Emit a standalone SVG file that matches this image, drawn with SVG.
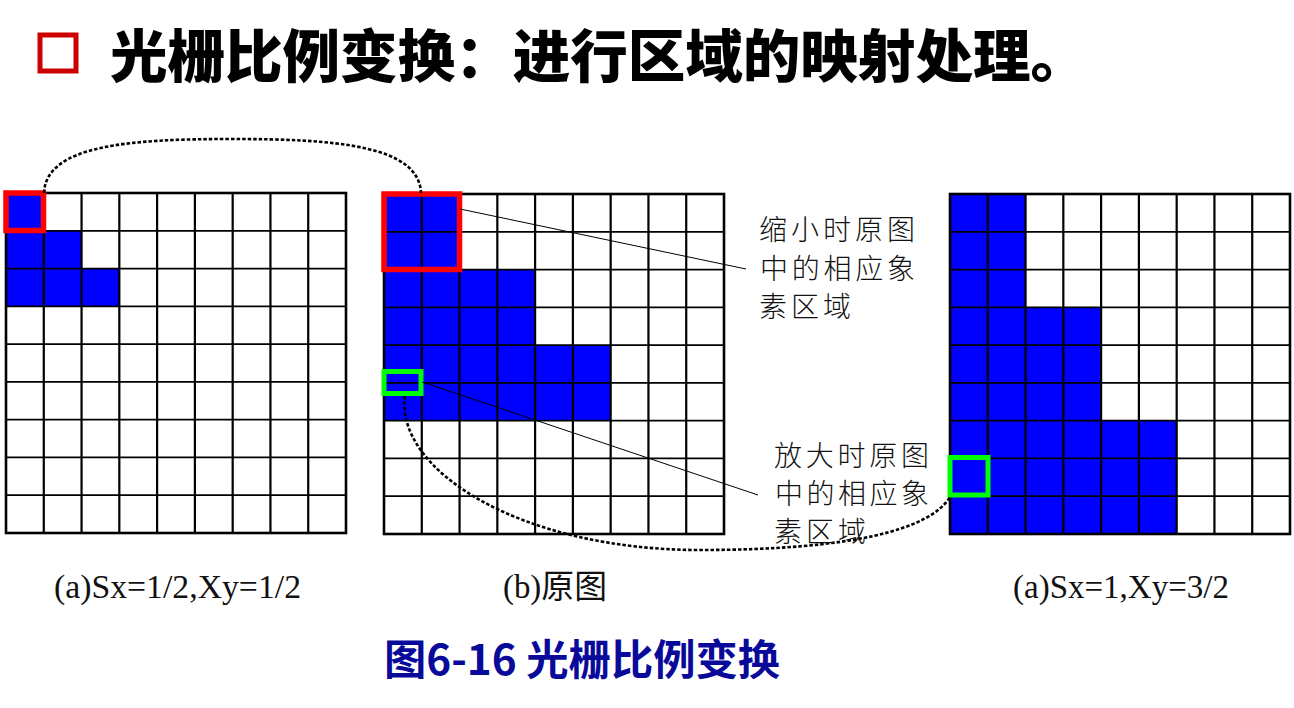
<svg xmlns="http://www.w3.org/2000/svg" xmlns:xlink="http://www.w3.org/1999/xlink" width="1294" height="708" viewBox="0 0 1294 708">
<style>
.blue{fill:#0000FF;stroke:none}
.vl{stroke:#000;stroke-width:2.2;fill:none}
.hl{stroke:#000;stroke-width:1.7;fill:none}
.bd{stroke:#000;stroke-width:2.6;fill:none}
.red{fill:none;stroke:#FF0000;stroke-width:5.5}
.green{fill:none;stroke:#00FF00;stroke-width:5}
.dot{fill:none;stroke:#000;stroke-width:2.6;stroke-dasharray:3.5 2}
.lead{stroke:#000;stroke-width:1;fill:none}
.lbl{font-family:"Noto Sans CJK SC","Noto Sans CJK JP",sans-serif;font-size:28px;font-weight:300;fill:#111}
.cap{font-family:"Liberation Serif","Noto Sans CJK SC",serif;font-size:33px;fill:#111}
</style>
<defs>
<g id="grid">
<path class="vl" d="M37.78,0V340M75.56,0V340M113.33,0V340M151.11,0V340M188.89,0V340M226.67,0V340M264.44,0V340M302.22,0V340"/>
<path class="hl" d="M0,37.78H340M0,75.56H340M0,113.33H340M0,151.11H340M0,188.89H340M0,226.67H340M0,264.44H340M0,302.22H340"/>
<rect class="bd" x="0" y="0" width="340" height="340"/>
</g>
</defs>
<rect width="1294" height="708" fill="#fff"/>
<g id="title">
<rect x="40" y="35" width="36" height="36" fill="none" stroke="#CC0000" stroke-width="5"/>
<text x="110" y="77" font-family="Noto Sans CJK SC,Noto Sans CJK JP,sans-serif" font-size="57" font-weight="900" fill="#000" textLength="978" lengthAdjust="spacingAndGlyphs">光栅比例变换：进行区域的映射处理。</text>
</g>
<g id="panel-a1" transform="translate(6,193)">
<path class="blue" d="M0,0H37.78V37.78H75.56V75.56H113.33V113.33H0Z"/>
<use xlink:href="#grid" href="#grid"/>
<rect class="red" x="0" y="0" width="37.5" height="37.5"/>
</g>
<g id="panel-b" transform="translate(384,194)">
<path class="blue" d="M0,0H75.56V75.56H151.11V151.11H226.67V226.67H0Z"/>
<use xlink:href="#grid" href="#grid"/>
<rect class="red" x="0" y="0" width="75.5" height="75.5"/>
<rect class="green" x="0" y="177.5" width="37" height="22"/>
</g>
<g id="panel-a2" transform="translate(950,194)">
<path class="blue" d="M0,0H75.56V113.33H151.11V226.67H226.67V340H0Z"/>
<use xlink:href="#grid" href="#grid"/>
<rect class="green" x="0" y="263.5" width="38" height="37.5"/>
</g>
<g id="connectors">
<path class="dot" d="M44,193 C46,145 130,139 232,139 C334,139 419,145 421,193"/>
<path class="dot" d="M405,396 C395,470 520,550 700,550 C850,550 930,530 950,497"/>
<line class="lead" x1="460" y1="209" x2="746" y2="269"/>
<line class="lead" x1="422" y1="382" x2="758" y2="495"/>
</g>
<g id="label-shrink">
<text class="lbl" x="759" y="240" textLength="156" lengthAdjust="spacing">缩小时原图</text>
<text class="lbl" x="760" y="279" textLength="155" lengthAdjust="spacing">中的相应象</text>
<text class="lbl" x="759" y="317" textLength="92" lengthAdjust="spacing">素区域</text>
</g>
<g id="label-enlarge">
<text class="lbl" x="774" y="466" textLength="155" lengthAdjust="spacing">放大时原图</text>
<text class="lbl" x="775" y="504" textLength="154" lengthAdjust="spacing">中的相应象</text>
<text class="lbl" x="774" y="542" textLength="92" lengthAdjust="spacing">素区域</text>
</g>
<g id="captions">
<text class="cap" x="54" y="598" textLength="247" lengthAdjust="spacingAndGlyphs">(a)Sx=1/2,Xy=1/2</text>
<text class="cap" x="503" y="598" textLength="104" lengthAdjust="spacingAndGlyphs">(b)原图</text>
<text class="cap" x="1013" y="598" textLength="216" lengthAdjust="spacingAndGlyphs">(a)Sx=1,Xy=3/2</text>
</g>
<g id="figure-caption">
<text x="384" y="675" font-family="Noto Sans CJK SC,Noto Sans CJK JP,sans-serif" font-size="42" font-weight="700" fill="#0A0A9A" textLength="396" lengthAdjust="spacingAndGlyphs">图6-16 光栅比例变换</text>
</g>
</svg>
